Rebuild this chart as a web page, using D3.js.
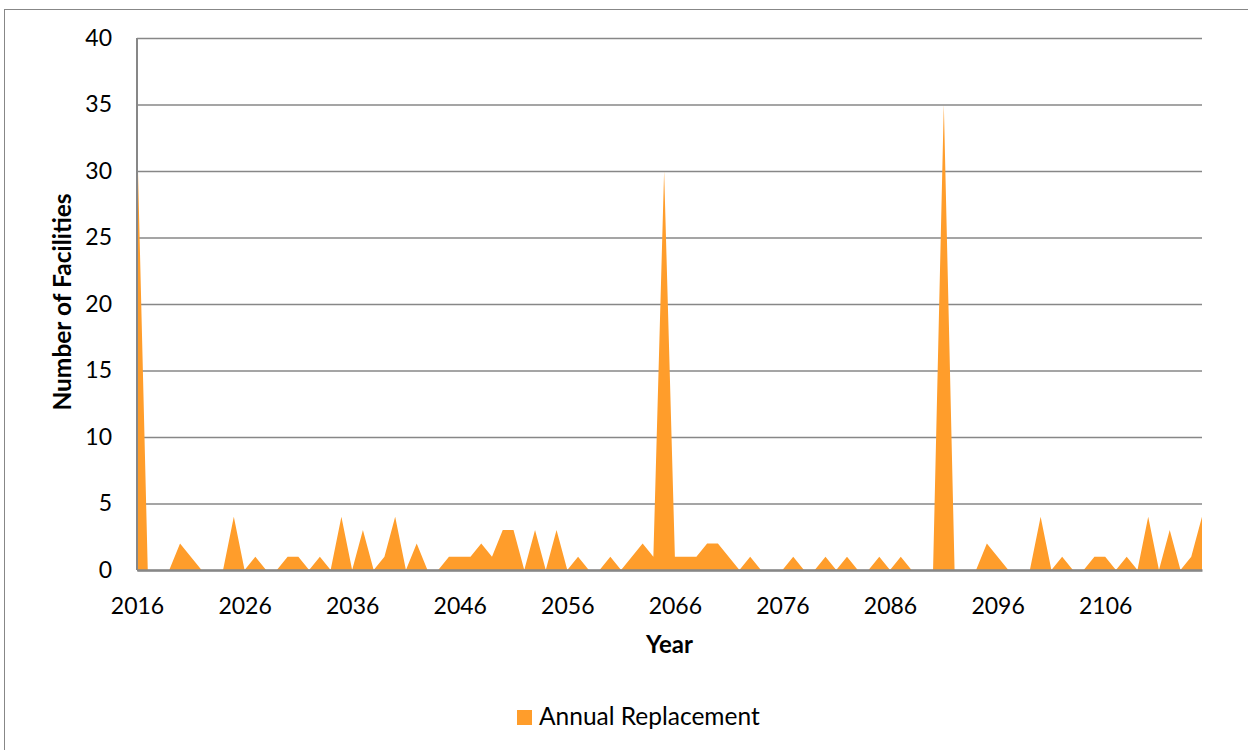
<!DOCTYPE html>
<html>
<head>
<meta charset="utf-8">
<script src="https://cdn.jsdelivr.net/npm/d3@7"></script>
<style>
  html, body { margin: 0; padding: 0; background: #fff; }
  svg { display: block; }
  text { font-family: Lato, "Open Sans", sans-serif; fill: #000; }
</style>
</head>
<body>
<svg id="chart" width="1248" height="750"></svg>
<script>
// Facilities due for replacement each year, 2016-2115
const years = d3.range(2016, 2116);
const annualReplacement = [
  33, 0, 0, 0, 2, 1, 0, 0, 0, 4,
  0, 1, 0, 0, 1, 1, 0, 1, 0, 4,
  0, 3, 0, 1, 4, 0, 2, 0, 0, 1,
  1, 1, 2, 1, 3, 3, 0, 3, 0, 3,
  0, 1, 0, 0, 1, 0, 1, 2, 1, 30,
  1, 1, 1, 2, 2, 1, 0, 1, 0, 0,
  0, 1, 0, 0, 1, 0, 1, 0, 0, 1,
  0, 1, 0, 0, 0, 35, 0, 0, 0, 2,
  1, 0, 0, 0, 4, 0, 1, 0, 0, 1,
  1, 0, 1, 0, 4, 0, 3, 0, 1, 4
];
const yTicks = [0, 5, 10, 15, 20, 25, 30, 35, 40];
const xTickYears = [2016, 2026, 2036, 2046, 2056, 2066, 2076, 2086, 2096, 2106];
const seriesName = "Annual Replacement";

const data = years.map((yr, i) => ({ year: yr, value: annualReplacement[i] }));

const svg = d3.select("#chart");
const plot = { left: 137, right: 1202, top: 38, bottom: 570 };
const orange = "#FF9D2B";
const gray = "#878787";

// outer chart frame
svg.append("rect")
  .attr("x", 4.5).attr("y", 9.5)
  .attr("width", 1260).attr("height", 760)
  .attr("fill", "#fff").attr("stroke", gray).attr("stroke-width", 1);

const x = d3.scalePoint().domain(years).range([plot.left, plot.right]).padding(0);
const y = d3.scaleLinear().domain([0, 40]).range([plot.bottom, plot.top]);

// horizontal gridlines + value labels
const yAxis = svg.append("g")
  .attr("transform", `translate(${plot.left},0)`)
  .call(d3.axisLeft(y).tickValues(yTicks).tickSize(-(plot.right - plot.left)).tickPadding(25));
yAxis.select(".domain").remove();
yAxis.selectAll(".tick line").attr("stroke", gray).attr("stroke-width", 1.5);
yAxis.selectAll(".tick text").attr("font-size", 23).attr("font-family", "Lato, sans-serif").attr("fill", "#000");

// filled area
const area = d3.area()
  .x(d => x(d.year))
  .y0(y(0))
  .y1(d => y(d.value));
svg.append("path")
  .datum(data)
  .attr("d", area)
  .attr("fill", orange);

// left axis line
svg.append("line")
  .attr("x1", plot.left).attr("x2", plot.left)
  .attr("y1", plot.top).attr("y2", plot.bottom)
  .attr("stroke", gray).attr("stroke-width", 2);

// bottom axis
const xAxis = svg.append("g")
  .attr("transform", `translate(0,${plot.bottom})`)
  .call(d3.axisBottom(x).tickValues(xTickYears).tickSize(0).tickPadding(28).tickSizeOuter(0));
xAxis.select(".domain").attr("stroke", gray).attr("stroke-width", 2.5);
xAxis.selectAll(".tick text").attr("font-size", 23).attr("font-family", "Lato, sans-serif").attr("fill", "#000");

// axis titles
svg.append("text")
  .attr("x", (plot.left + plot.right) / 2).attr("y", 653)
  .attr("text-anchor", "middle")
  .attr("font-size", 24).attr("font-weight", "bold")
  .text("Year");

svg.append("text")
  .attr("transform", `translate(71,${(plot.top + plot.bottom) / 2 - 2}) rotate(-90)`)
  .attr("text-anchor", "middle")
  .attr("font-size", 24.5).attr("font-weight", "bold")
  .text("Number of Facilities");

// legend
const legend = svg.append("g").attr("transform", "translate(517,710)");
legend.append("rect").attr("width", 15).attr("height", 15).attr("fill", orange);
legend.append("text")
  .attr("x", 22).attr("y", 15)
  .attr("font-size", 24.5)
  .text(seriesName);
</script>
</body>
</html>
